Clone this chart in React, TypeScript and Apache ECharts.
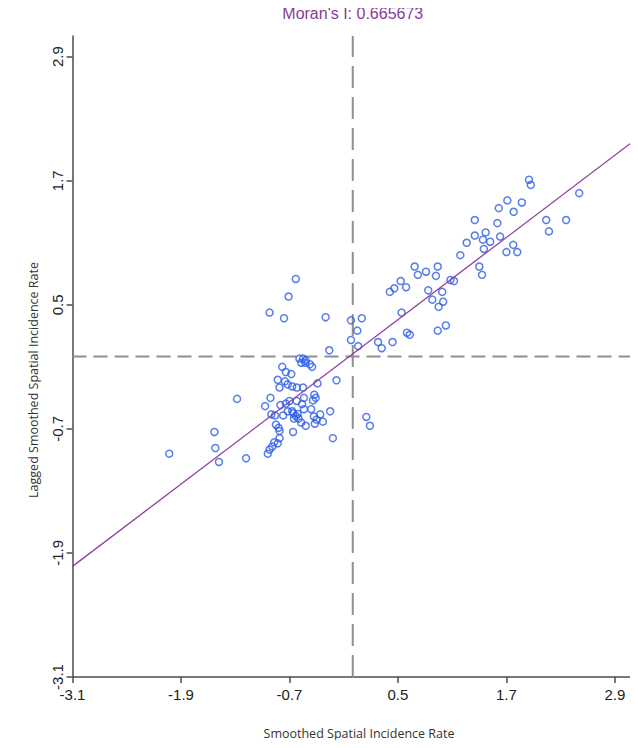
import React, { useEffect, useRef } from "react";
import * as echarts from "echarts";

const titleText = "Moran's I: 0.665673";
const xName = "Smoothed Spatial Incidence Rate";
const yName = "Lagged Smoothed Spatial Incidence Rate";

const axisMin = -3.1;
const axisMax = 3.1;
const tickValues = [-3.1, -1.9, -0.7, 0.5, 1.7, 2.9];

const meanX = 0;
const meanY = 0;

const fitX = [-3.1, 3.1];
const fitY = [-2.03, 2.08];

const pointsX = [
  -2.03, -1.53, -1.52, -1.48, -1.28, -1.18, -0.97, -0.91, -0.9, -0.86,
  -0.94, -0.92, -0.89, -0.87, -0.83, -0.81, -0.85, -0.82, -0.81, -0.66,
  -0.57, -0.52, -0.42, -0.33, -0.22, 0.15, 0.19, -0.25, -0.77, -0.72,
  -0.67, -0.66, -0.63, -0.6, -0.65, -0.61, -0.46, -0.43, -0.4, -0.36,
  -0.56, -0.54, -0.8, -0.74, -0.7, -0.62, -0.54, -0.425, -0.41, -0.44,
  -0.83, -0.75, -0.72, -0.81, -0.67, -0.62, -0.55, -0.78, -0.74, -0.68,
  -0.39, -0.18, -0.59, -0.55, -0.52, -0.475, -0.45, -0.57, -0.525, -0.26,
  -0.63, -0.71, -0.92, -0.76, -0.3, -0.02, 0.1, 0.05, -0.02, 0.06,
  0.28, 0.32, 0.44, 0.6, 0.63, 0.54, 0.94, 1.03, 0.88, 1.0,
  0.95, 0.835, 0.99, 1.08, 1.12, 0.53, 0.59, 0.46, 0.41, 0.685,
  0.81, 0.94, 0.72, 0.92, 1.19, 1.4, 1.43, 1.26, 1.35, 1.47,
  1.44, 1.52, 1.63, 1.45, 1.775, 1.7, 1.82, 1.35, 1.6, 1.71,
  1.87, 1.78, 1.615, 1.95, 1.97, 2.505, 2.14, 2.36, 2.17,
];

const pointsY = [
  -0.94, -0.73, -0.885, -1.02, -0.41, -0.985, -0.48, -0.4, -0.56, -0.57,
  -0.94, -0.9, -0.87, -0.83, -0.84, -0.79, -0.66, -0.69, -0.72, -0.73,
  -0.64, -0.67, -0.65, -0.63, -0.79, -0.585, -0.67, -0.53, -0.57, -0.53,
  -0.53, -0.55, -0.575, -0.6, -0.6, -0.556, -0.51, -0.58, -0.61, -0.56,
  -0.46, -0.51, -0.47, -0.456, -0.43, -0.43, -0.4, -0.37, -0.4, -0.425,
  -0.225, -0.24, -0.27, -0.3, -0.29, -0.3, -0.3, -0.1, -0.15, -0.17,
  -0.26, -0.23, -0.02, -0.02, -0.04, -0.075, -0.1, -0.06, -0.06, 0.06,
  0.75, 0.58, 0.425, 0.37, 0.38, 0.35, 0.37, 0.25, 0.16, 0.1,
  0.14, 0.08, 0.14, 0.23, 0.21, 0.425, 0.25, 0.3, 0.55, 0.53,
  0.48, 0.64, 0.625, 0.74, 0.73, 0.73, 0.67, 0.66, 0.625, 0.87,
  0.82, 0.87, 0.79, 0.78, 0.98, 0.87, 0.79, 1.1, 1.17, 1.2,
  1.13, 1.11, 1.16, 1.04, 1.08, 1.01, 1.01, 1.32, 1.29, 1.51,
  1.49, 1.4, 1.435, 1.71, 1.66, 1.58, 1.32, 1.32, 1.21,
];

const narrowFont = "'Liberation Sans Narrow', 'Arial Narrow', 'Liberation Sans', Arial, sans-serif";
const nameFont = "'Open Sans', 'Noto Sans', sans-serif";

export default function App() {
  const ref = useRef<HTMLDivElement>(null);

  useEffect(() => {
    if (!ref.current) return;
    const chart = echarts.init(ref.current, null, { renderer: "svg" });

    const scatterData = pointsX.map((x, i) => [x, pointsY[i]]);
    const fitData = fitX.map((x, i) => [x, fitY[i]]);

    const gridLeft = 72.5;
    const gridRight = 5;
    const gridTop = 36;
    const gridBottom = 71;
    const plotCenterX = gridLeft + (638 - gridLeft - gridRight) / 2;

    const axisCommon = {
      type: "value",
      min: axisMin,
      max: axisMax,
      splitLine: { show: false },
      axisLine: { show: true, onZero: false, lineStyle: { color: "#4d4d4d", width: 1.5 } },
      axisTick: {
        show: true,
        length: 6,
        customValues: tickValues,
        lineStyle: { color: "#4d4d4d", width: 1.5 },
      },
    };

    chart.setOption({
      animation: false,
      backgroundColor: "#ffffff",
      grid: {
        left: gridLeft,
        right: gridRight,
        top: gridTop,
        bottom: gridBottom,
        containLabel: false,
        outerBoundsMode: "none",
      },
      xAxis: {
        ...axisCommon,
        axisLabel: {
          customValues: tickValues,
          formatter: (v: number) => v.toFixed(1),
          margin: 10,
          fontSize: 15,
          color: "#222222",
          fontFamily: narrowFont,
        },
      },
      yAxis: {
        ...axisCommon,
        axisLabel: {
          customValues: tickValues,
          formatter: (v: number) => v.toFixed(1),
          rotate: 90,
          margin: 8,
          fontSize: 15,
          color: "#222222",
          fontFamily: narrowFont,
        },
      },
      graphic: [
        {
          type: "text",
          x: plotCenterX,
          y: 13,
          style: {
            text: titleText,
            fill: "#8a3b98",
            fontSize: 16,
            fontFamily: narrowFont,
            textAlign: "center",
            textVerticalAlign: "middle",
          },
        },
        {
          type: "text",
          x: 359,
          y: 733,
          style: {
            text: xName,
            fill: "#333333",
            fontSize: 12.5,
            fontFamily: nameFont,
            textAlign: "center",
            textVerticalAlign: "middle",
          },
        },
        {
          type: "text",
          x: 33,
          y: 380,
          rotation: Math.PI / 2,
          style: {
            text: yName,
            fill: "#333333",
            fontSize: 12.5,
            fontFamily: nameFont,
            textAlign: "center",
            textVerticalAlign: "middle",
          },
        },
      ],
      series: [
        {
          type: "line",
          name: "mean x",
          data: [
            [meanX, axisMin],
            [meanX, axisMax],
          ],
          symbol: "none",
          silent: true,
          lineStyle: { color: "#8f8f8f", width: 2, type: [22, 9] },
          z: 1,
        },
        {
          type: "line",
          name: "mean y",
          data: [
            [axisMin, meanY],
            [axisMax, meanY],
          ],
          symbol: "none",
          silent: true,
          lineStyle: { color: "#8f8f8f", width: 2, type: [14, 7] },
          z: 1,
        },
        {
          type: "scatter",
          name: "regions",
          data: scatterData,
          symbol: "circle",
          symbolSize: 7,
          itemStyle: {
            color: "rgba(255,255,255,0)",
            borderColor: "#2c5de8",
            borderWidth: 1.5,
          },
          z: 2,
        },
        {
          type: "line",
          name: "fit",
          data: fitData,
          symbol: "none",
          silent: true,
          lineStyle: { color: "#8e3f9c", width: 1.3 },
          z: 3,
        },
      ],
    });

    return () => chart.dispose();
  }, []);

  return <div ref={ref} style={{ width: 638, height: 748, margin: -8 }} />;
}
